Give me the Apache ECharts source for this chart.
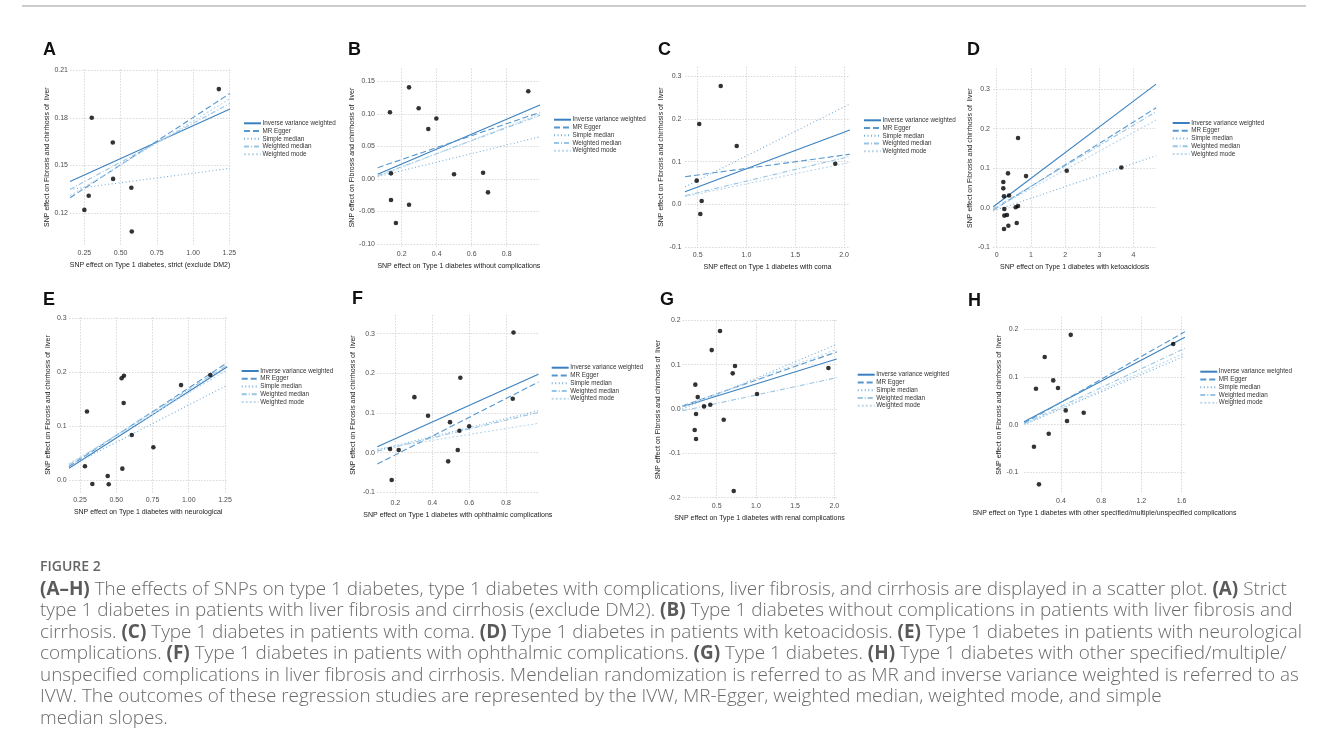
<!DOCTYPE html>
<html><head><meta charset="utf-8">
<script src="https://cdn.jsdelivr.net/npm/echarts@6/dist/echarts.min.js"></script>
<style>
html,body{margin:0;padding:0;background:#fff;}
#wrap{position:relative;width:1328px;height:753px;overflow:hidden;background:#fff;}
#chart{position:absolute;left:0;top:0;width:1328px;height:753px;}
.cap{position:absolute;left:40px;white-space:nowrap;font-family:'Open Sans',sans-serif;color:#6a6a6a;font-size:18.9px;font-weight:300;line-height:21px;}
.cap b{font-weight:700;color:#5a5a5a;}
#fig{position:absolute;left:40px;font-family:'Open Sans',sans-serif;color:#666;font-size:14px;font-weight:600;line-height:18px;}
</style></head>
<body><div id="wrap"><div id="chart"></div>
<div id="fig" style="top:557px">FIGURE 2</div>
<div class="cap" style="top:577.5px"><b>(A–H)</b> The effects of SNPs on type 1 diabetes, type 1 diabetes with complications, liver fibrosis, and cirrhosis are displayed in a scatter plot. <b>(A)</b> Strict</div>
<div class="cap" style="top:599px">type 1 diabetes in patients with liver fibrosis and cirrhosis (exclude DM2). <b>(B)</b> Type 1 diabetes without complications in patients with liver fibrosis and</div>
<div class="cap" style="top:620.5px">cirrhosis. <b>(C)</b> Type 1 diabetes in patients with coma. <b>(D)</b> Type 1 diabetes in patients with ketoacidosis. <b>(E)</b> Type 1 diabetes in patients with neurological</div>
<div class="cap" style="top:642px">complications. <b>(F)</b> Type 1 diabetes in patients with ophthalmic complications. <b>(G)</b> Type 1 diabetes. <b>(H)</b> Type 1 diabetes with other specified/multiple/</div>
<div class="cap" style="top:663.5px">unspecified complications in liver fibrosis and cirrhosis. Mendelian randomization is referred to as MR and inverse variance weighted is referred to as</div>
<div class="cap" style="top:685px">IVW. The outcomes of these regression studies are represented by the IVW, MR-Egger, weighted median, weighted mode, and simple</div>
<div class="cap" style="top:706.5px">median slopes.</div>
</div>
<script>
const methods = ['Inverse variance weighted','MR Egger','Simple median','Weighted median','Weighted mode'];
const letters = ['A','B','C','D','E','F','G','H'];
const xTitles = [
 'SNP effect on Type 1 diabetes, strict (exclude DM2)',
 'SNP effect on Type 1 diabetes without complications',
 'SNP effect on Type 1 diabetes with coma',
 'SNP effect on Type 1 diabetes with ketoacidosis',
 'SNP effect on Type 1 diabetes with neurological',
 'SNP effect on Type 1 diabetes with ophthalmic complications',
 'SNP effect on Type 1 diabetes with renal complications',
 'SNP effect on Type 1 diabetes with other specified/multiple/unspecified complications'
];
const yTitle = 'SNP effect on Fibrosis and chirrhosis of  liver';

// SNP points [x, y]
const pointsA = [[1.177,0.198],[0.301,0.180],[0.446,0.1645],[0.448,0.1416],[0.28,0.131],[0.25,0.1221],[0.574,0.136],[0.577,0.1085]];
const pointsB = [[0.133,0.1026],[0.242,0.141],[0.297,0.1088],[0.352,0.077],[0.398,0.093],[0.139,0.0087],[0.139,-0.0323],[0.167,-0.0677],[0.242,-0.0395],[0.499,0.0072],[0.665,0.0097],[0.693,-0.0205],[0.923,0.135]];
const pointsC = [[0.736,0.277],[0.516,0.188],[0.90,0.1365],[0.49,0.0553],[0.541,0.0077],[0.527,-0.0227],[1.91,0.095]];
const pointsD = [[0.623,0.1765],[0.33,0.087],[0.857,0.080],[0.193,0.065],[0.193,0.049],[0.213,0.0288],[0.36,0.031],[0.222,-0.0033],[0.555,0.001],[0.623,0.0043],[0.222,-0.020],[0.30,-0.0185],[0.585,-0.0387],[0.34,-0.0456],[0.213,-0.054],[2.047,0.0937],[3.643,0.102]];
const pointsE = [[0.298,0.127],[0.537,0.1887],[0.553,0.1935],[0.551,0.1429],[0.607,0.0835],[0.756,0.0607],[0.947,0.176],[1.149,0.1948],[0.284,0.0254],[0.542,0.021],[0.441,0.0074],[0.335,-0.0074],[0.448,-0.008]];
const pointsF = [[0.84,0.303],[0.552,0.189],[0.303,0.140],[0.377,0.093],[0.496,0.077],[0.547,0.0554],[0.60,0.0665],[0.836,0.136],[0.171,0.0093],[0.218,0.0068],[0.538,0.0068],[0.486,-0.0217],[0.18,-0.0688]];
const pointsG = [[0.542,0.176],[0.436,0.133],[0.733,0.097],[0.704,0.0806],[0.227,0.055],[0.258,0.027],[0.338,0.006],[0.418,0.0097],[0.236,-0.0113],[0.589,-0.024],[0.219,-0.0474],[0.236,-0.0677],[1.014,0.034],[1.924,0.0925],[0.717,-0.185]];
const pointsH = [[0.497,0.188],[0.238,0.1416],[0.323,0.0928],[0.37,0.0768],[0.151,0.0753],[0.447,0.030],[0.46,0.0077],[0.626,0.0251],[0.278,-0.0188],[0.131,-0.046],[0.181,-0.1247],[1.517,0.1688]];

// regression lines: [y at left edge, y at right edge], in methods order
const linesA = [[0.140,0.1855],[0.1297,0.1953],[0.135,0.1482],[0.135,0.189],[0.131,0.192]];
const linesB = [[0.0072,0.1138],[0.0174,0.1026],[0.0036,0.065],[0.005,0.098],[0.004,0.100]];
const linesC = [[0.0295,0.174],[0.0646,0.117],[0.041,0.235],[0.020,0.112],[0.018,0.098]];
const linesD = [[0.0025,0.313],[-0.006,0.253],[-0.0084,0.1316],[-0.0025,0.243],[-0.004,0.222]];
const linesE = [[0.0217,0.210],[0.025,0.2177],[0.0247,0.176],[0.028,0.213],[0.03,0.204]];
const linesF = [[0.0151,0.1975],[-0.0285,0.178],[0.0068,0.106],[0.004,0.1017],[0.009,0.074]];
const linesG = [[0.0052,0.113],[0.007,0.129],[0.0,0.146],[-0.004,0.0707],[0.005,0.135]];
const linesH = [[0.0063,0.183],[0.003,0.1946],[0.0,0.1437],[0.002,0.16],[0.0,0.15]];

// axis extents and tick values
const xRangeA=[0.151,1.254], yRangeA=[0.1,0.2105];
const xRangeB=[0.063,0.99],  yRangeB=[-0.104,0.170];
const xRangeC=[0.37,2.06],   yRangeC=[-0.101,0.322];
const xRangeD=[-0.1,4.66],   yRangeD=[-0.102,0.353];
const xRangeE=[0.174,1.266], yRangeE=[-0.024,0.302];
const xRangeF=[0.102,0.975], yRangeF=[-0.107,0.347];
const xRangeG=[0.061,2.03],  yRangeG=[-0.203,0.2005];
const xRangeH=[0.032,1.633], yRangeH=[-0.143,0.226];
const xTicksA=[0.25,0.5,0.75,1,1.25], yTicksA=[0.12,0.15,0.18,0.21];
const xTicksB=[0.2,0.4,0.6,0.8],      yTicksB=[-0.1,-0.05,0,0.05,0.1,0.15];
const xTicksC=[0.5,1,1.5,2],          yTicksC=[-0.1,0,0.1,0.2,0.3];
const xTicksD=[0,1,2,3,4],            yTicksD=[-0.1,0,0.1,0.2,0.3];
const xTicksE=[0.25,0.5,0.75,1,1.25], yTicksE=[0,0.1,0.2,0.3];
const xTicksF=[0.2,0.4,0.6,0.8],      yTicksF=[-0.1,0,0.1,0.2,0.3];
const xTicksG=[0.5,1,1.5,2],          yTicksG=[-0.2,-0.1,0,0.1,0.2];
const xTicksH=[0.4,0.8,1.2,1.6],      yTicksH=[-0.1,0,0.1,0.2];

const panels = [
 {pts:pointsA,lines:linesA,xr:xRangeA,yr:yRangeA,xt:xTicksA,yt:yTicksA},
 {pts:pointsB,lines:linesB,xr:xRangeB,yr:yRangeB,xt:xTicksB,yt:yTicksB},
 {pts:pointsC,lines:linesC,xr:xRangeC,yr:yRangeC,xt:xTicksC,yt:yTicksC},
 {pts:pointsD,lines:linesD,xr:xRangeD,yr:yRangeD,xt:xTicksD,yt:yTicksD},
 {pts:pointsE,lines:linesE,xr:xRangeE,yr:yRangeE,xt:xTicksE,yt:yTicksE},
 {pts:pointsF,lines:linesF,xr:xRangeF,yr:yRangeF,xt:xTicksF,yt:yTicksF},
 {pts:pointsG,lines:linesG,xr:xRangeG,yr:yRangeG,xt:xTicksG,yt:yTicksG},
 {pts:pointsH,lines:linesH,xr:xRangeH,yr:yRangeH,xt:xTicksH,yt:yTicksH}
];

// layout (pixels) and formatting
const layout = [
 {g:[70,69.2,160,175.9],   lg:[243,119.8],   lt:[43,50],  xd:2,yd:2,yg:18.5,lm:2},
 {g:[377.7,68.5,162.3,178.1],lg:[553,116.2], lt:[348,50], xd:1,yd:2,yg:22.5,lm:2.7},
 {g:[685,66.8,164.9,180.6], lg:[863,116.8],  lt:[658,50], xd:1,yd:1,yg:20,lm:3.5},
 {g:[993.3,68.3,162.8,179.7],lg:[1171.7,119.5],lt:[967,50],xd:0,yd:1,yg:18,lm:3.3},
 {g:[69,317.2,158.3,175.7], lg:[240.7,367.5], lt:[43,300], xd:2,yd:1,yg:17,lm:2.3},
 {g:[377.3,315,161.1,180.2],lg:[550.7,364.2], lt:[352,299],xd:1,yd:1,yg:20.5,lm:2.3},
 {g:[682.3,320.2,154.4,178.8],lg:[856.7,371.2],lt:[660,300],xd:1,yd:1,yg:20.5,lm:1.6},
 {g:[1024,316.7,160.9,176.4],lg:[1199.3,368.2],lt:[968,301],xd:1,yd:1,yg:19,lm:5.5}
];

const colors = ['#3a80c0','#5597cf','#74aedb','#98c5e3','#bcd8ec'];
const dashes = ['solid',[6,3],[1,2.5],[5,2,1,2],[2,2]];
const FONT = "'Liberation Sans', Arial, sans-serif";

const grid=[], xAxis=[], yAxis=[], series=[], legend=[], graphic=[];
panels.forEach((p,i)=>{
  const L = layout[i];
  grid.push({left:L.g[0], top:L.g[1], width:L.g[2], height:L.g[3], containLabel:false});
  const splitLine = {show:true, lineStyle:{type:[1.5,1.5], color:'#c9c9c9', width:0.7}};
  xAxis.push({type:'value', gridIndex:i, min:p.xr[0], max:p.xr[1],
    axisLine:{show:false}, axisTick:{show:false, customValues:p.xt},
    axisLabel:{customValues:p.xt, fontSize:7, color:'#4d4d4d', margin:4, fontFamily:FONT,
      formatter:(v)=>Number(v).toFixed(L.xd)},
    splitLine, name:xTitles[i], nameLocation:'middle', nameGap:16,
    nameTextStyle:{fontSize:7, color:'#1a1a1a', fontFamily:FONT}});
  yAxis.push({type:'value', gridIndex:i, min:p.yr[0], max:p.yr[1],
    axisLine:{show:false}, axisTick:{show:false, customValues:p.yt},
    axisLabel:{customValues:p.yt, fontSize:7, color:'#4d4d4d', margin:L.lm, fontFamily:FONT,
      formatter:(v)=>Number(v).toFixed(L.yd)},
    splitLine, name:yTitle, nameLocation:'middle', nameGap:L.yg,
    nameTextStyle:{fontSize:7, color:'#1a1a1a', fontFamily:FONT}});
  p.lines.forEach((ln,k)=>{
    series.push({type:'line', name:methods[k], xAxisIndex:i, yAxisIndex:i,
      data:[[p.xr[0],ln[0]],[p.xr[1],ln[1]]], symbol:'none', silent:true,
      lineStyle:{color:colors[k], width:1.1, type:dashes[k]}, itemStyle:{color:colors[k]}, z:2+k*0.01});
  });
  series.push({type:'scatter', name:'SNP', xAxisIndex:i, yAxisIndex:i, data:p.pts,
    symbolSize:4.6, itemStyle:{color:'#000'}, silent:true, z:5});
  legend.push({orient:'vertical', left:L.lg[0], top:L.lg[1], padding:0, itemWidth:17, itemHeight:5, itemGap:0.75,
    selectedMode:false, data:methods, itemStyle:{opacity:0, borderWidth:0},
    textStyle:{fontSize:6.3, lineHeight:7, color:'#333', fontFamily:FONT, padding:[0,0,0,-3.5]}});
  graphic.push({type:'text', left:L.lt[0], top:L.lt[1]-9, style:{text:letters[i], font:"bold 18px 'Liberation Sans', Arial, sans-serif", fill:'#111'}});
});
graphic.push({type:'line', shape:{x1:22,y1:6,x2:1306,y2:6}, style:{stroke:'#cccccc', lineWidth:2}});

const chart = echarts.init(document.getElementById('chart'), null, {renderer:'canvas'});
chart.setOption({animation:false, backgroundColor:'transparent', grid, xAxis, yAxis, series, legend, graphic});
</script></body></html>
